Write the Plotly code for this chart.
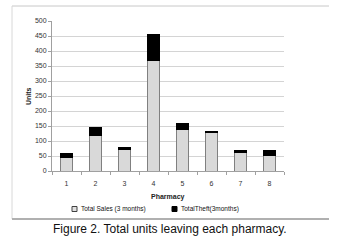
import plotly.graph_objects as go

pharmacies = ["1", "2", "3", "4", "5", "6", "7", "8"]
total_sales = [45, 118, 72, 370, 138, 129, 62, 52]
total_theft = [15, 28, 5, 85, 22, 4, 5, 16]
y_ticks = [0, 50, 100, 150, 200, 250, 300, 350, 400, 450, 500]
series_names = ["Total Sales (3 months)", "TotalTheft(3months)"]

x_pos = list(range(1, len(pharmacies) + 1))

# plot area in pixels
L, R, T, B = 52, 284, 21, 171
PW, PH = R - L, B - T


def px(x):
    return (x - L) / PW


def py(y):
    return (B - y) / PH


fig = go.Figure()
fig.add_bar(x=x_pos, y=total_sales, name=series_names[0], showlegend=False,
            marker=dict(color="#d9d9d9", line=dict(color="#808080", width=1)))
fig.add_bar(x=x_pos, y=total_theft, name=series_names[1], showlegend=False,
            marker=dict(color="#000000", line=dict(color="#000000", width=1)))

tick_font = dict(family="Liberation Sans", size=7, color="#333333")
title_font = dict(family="Liberation Sans", size=7, color="#222222")

fig.update_layout(
    barmode="stack",
    bargap=0.59,
    width=339, height=241,
    margin=dict(l=L, r=339 - R, t=T, b=241 - B, autoexpand=False),
    paper_bgcolor="white", plot_bgcolor="white",
    showlegend=False,
    xaxis=dict(range=[0.5, 8.5], tickvals=x_pos, ticktext=pharmacies,
               tickfont=tick_font, ticks="", showgrid=False, automargin=False,
               showline=True, linecolor="#a0a0a0", linewidth=1,
               minor=dict(tickvals=[i + 0.5 for i in range(0, 9)], ticks="outside",
                          ticklen=3, tickcolor="#a0a0a0"),
               ticklabelstandoff=6),
    yaxis=dict(range=[0, 500], tickvals=y_ticks, tickfont=tick_font, automargin=False,
               ticks="outside", ticklen=3, tickcolor="#a0a0a0",
               showline=True, linecolor="#a0a0a0", linewidth=1,
               showgrid=True, gridcolor="#d4d4d4", gridwidth=1, zeroline=False),
)

# axis titles
fig.add_annotation(text="<b>Pharmacy</b>", xref="paper", yref="paper",
                   x=px(168), y=py(197), xanchor="center", yanchor="middle",
                   showarrow=False, font=title_font)
fig.add_annotation(text="<b>Units</b>", xref="paper", yref="paper",
                   x=px(28), y=py(96), xanchor="center", yanchor="middle",
                   textangle=-90, showarrow=False, font=title_font)

# legend
leg_y = 209
leg_font = dict(family="Liberation Sans", size=6.5, color="#111111")
fig.add_shape(type="rect", xref="paper", yref="paper",
              x0=px(72), x1=px(77), y0=py(leg_y + 2.5), y1=py(leg_y - 2.5),
              fillcolor="#e0e0e0", line=dict(color="#404040", width=1))
fig.add_annotation(text=series_names[0], xref="paper", yref="paper",
                   x=px(79), y=py(leg_y), xanchor="left", yanchor="middle",
                   showarrow=False, font=leg_font)
fig.add_shape(type="rect", xref="paper", yref="paper",
              x0=px(172), x1=px(177), y0=py(leg_y + 2.5), y1=py(leg_y - 2.5),
              fillcolor="#000000", line=dict(color="#000000", width=1))
fig.add_annotation(text=series_names[1], xref="paper", yref="paper",
                   x=px(179), y=py(leg_y), xanchor="left", yanchor="middle",
                   showarrow=False, font=leg_font)

# chart border (top, left, bottom)
fig.add_shape(type="line", xref="paper", yref="paper",
              x0=px(12), x1=px(329), y0=py(6), y1=py(6),
              line=dict(color="#c8c8c8", width=1))
fig.add_shape(type="line", xref="paper", yref="paper",
              x0=px(12), x1=px(12), y0=py(6), y1=py(219),
              line=dict(color="#d8d8d8", width=1))
fig.add_shape(type="line", xref="paper", yref="paper",
              x0=px(12), x1=px(329), y0=py(219), y1=py(219),
              line=dict(color="#b0b0b0", width=2))

fig.add_annotation(text="Figure 2. Total units leaving each pharmacy.",
                   xref="paper", yref="paper", x=px(170), y=py(229),
                   xanchor="center", yanchor="middle", showarrow=False,
                   font=dict(family="Liberation Sans", size=12, color="#111111"))

fig.write_html("out.html", config={"displayModeBar": False},
               post_script="document.body.style.margin='0px';document.body.style.overflow='hidden';")
